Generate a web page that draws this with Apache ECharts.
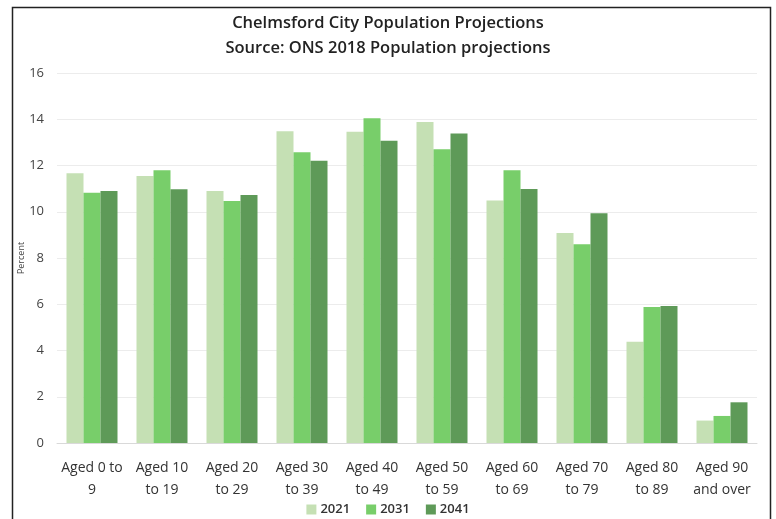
<!DOCTYPE html>
<html>
<head>
<meta charset="utf-8">
<title>Chelmsford City Population Projections</title>
<script src="https://cdn.jsdelivr.net/npm/echarts@6/dist/echarts.min.js"></script>
<style>
  html, body { margin: 0; padding: 0; background: #fff; }
  #chart { width: 776px; height: 519px; }
</style>
</head>
<body>
<div id="chart"></div>
<script>
  // age bands (x axis)
  var categories = [
    'Aged 0 to\n9', 'Aged 10\nto 19', 'Aged 20\nto 29', 'Aged 30\nto 39', 'Aged 40\nto 49',
    'Aged 50\nto 59', 'Aged 60\nto 69', 'Aged 70\nto 79', 'Aged 80\nto 89', 'Aged 90\nand over'
  ];
  var years = ['2021', '2031', '2041'];

  // percent of population
  var values2021 = [11.66, 11.55, 10.9, 13.48, 13.46, 13.88, 10.49, 9.08, 4.38, 0.97];
  var values2031 = [10.82, 11.79, 10.46, 12.57, 14.04, 12.7, 11.79, 8.6, 5.88, 1.17];
  var values2041 = [10.9, 10.97, 10.72, 12.21, 13.07, 13.38, 10.98, 9.93, 5.92, 1.76];

  var yTicks = [0, 2, 4, 6, 8, 10, 12, 14, 16];

  var colors = ['#c5e0b4', '#78ce6a', '#5e9a58'];
  var font = '"Open Sans", "Noto Sans", sans-serif';

  var chart = echarts.init(document.getElementById('chart'));

  function makeSeries(name, data) {
    return {
      name: name,
      type: 'bar',
      data: data,
      barWidth: 17,
      barGap: '0%',
      barCategoryGap: '27%'
    };
  }

  chart.setOption({
    color: colors,
    animation: false,
    textStyle: { fontFamily: font },
    title: {
      text: 'Chelmsford City Population Projections\nSource: ONS 2018 Population projections',
      left: 'center',
      top: 6,
      textStyle: {
        fontFamily: font,
        fontSize: 16.5,
        fontWeight: 600,
        color: '#222',
        lineHeight: 25
      }
    },
    legend: {
      data: years,
      bottom: -2,
      left: 'center',
      itemWidth: 10,
      itemHeight: 10,
      itemGap: 16,
      icon: 'rect',
      textStyle: { fontFamily: font, fontSize: 13, fontWeight: 600, color: '#333', padding: [0, 0, 0, -1] }
    },
    grid: {
      left: 57,
      right: 19,
      top: 73,
      bottom: 76,
      containLabel: false
    },
    xAxis: {
      type: 'category',
      data: categories,
      axisLine: { lineStyle: { color: '#d9d9d9' } },
      axisTick: { show: false },
      axisLabel: {
        fontFamily: font,
        fontSize: 14,
        color: '#333',
        lineHeight: 22,
        margin: 14,
        interval: 0
      }
    },
    yAxis: {
      type: 'value',
      min: 0,
      max: yTicks[yTicks.length - 1],
      interval: 2,
      name: 'Percent',
      nameLocation: 'middle',
      nameGap: 31,
      nameRotate: 90,
      nameMoveOverlap: false,
      nameTextStyle: { fontFamily: font, fontSize: 9, color: '#444' },
      axisLine: { show: false },
      axisTick: { show: false },
      axisLabel: { fontFamily: font, fontSize: 13, color: '#444', margin: 13 },
      splitLine: { lineStyle: { color: '#ececec' } }
    },
    graphic: [{
      type: 'rect',
      shape: { x: 12.5, y: 7.5, width: 758, height: 540 },
      style: { fill: 'none', stroke: '#222', lineWidth: 1.5 },
      silent: true
    }],
    series: [
      makeSeries(years[0], values2021),
      makeSeries(years[1], values2031),
      makeSeries(years[2], values2041)
    ]
  });
</script>
</body>
</html>
